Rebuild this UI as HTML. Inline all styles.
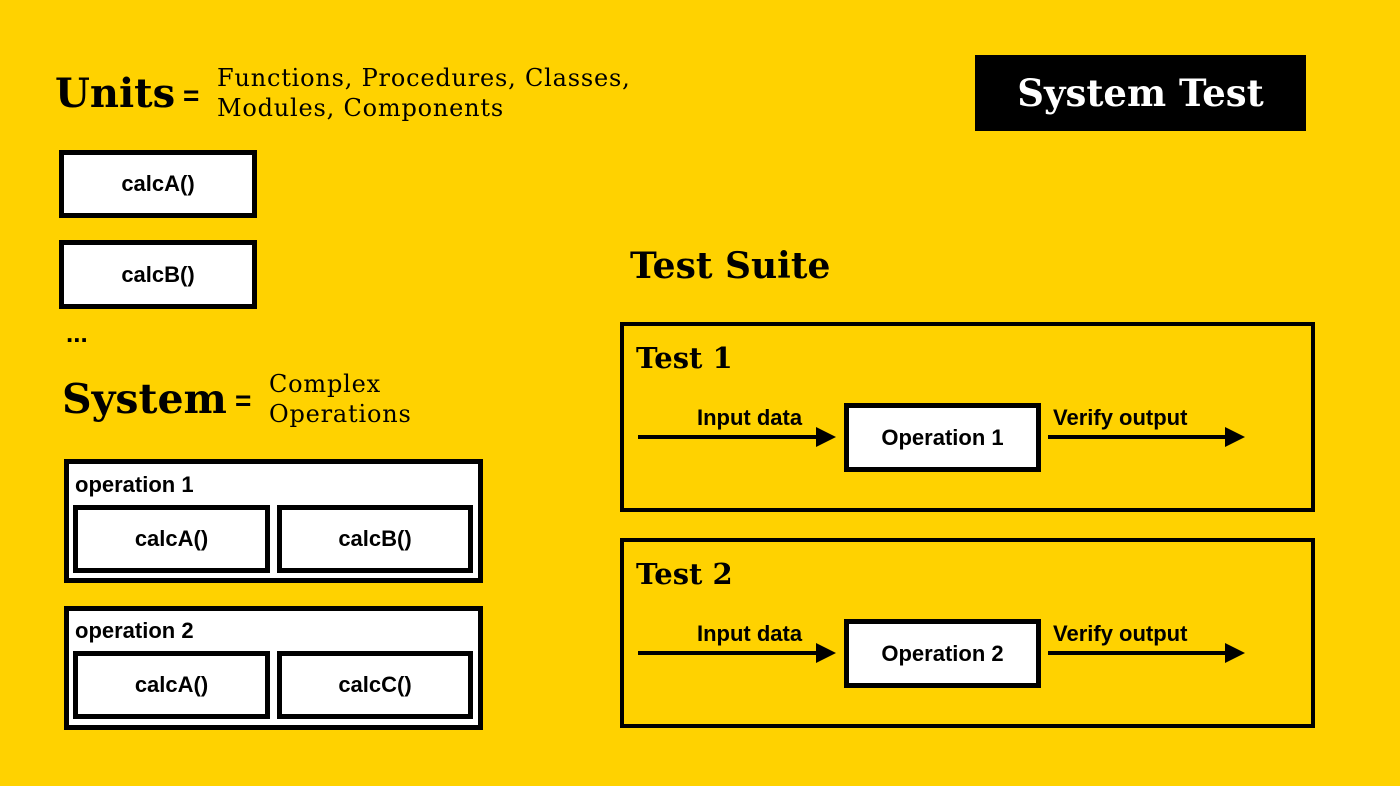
<!DOCTYPE html>
<html><head><meta charset="utf-8"><style>
body{margin:0;width:1400px;height:786px;background:#FFD200;position:relative;overflow:hidden;font-family:"Liberation Sans",sans-serif}
.a{position:absolute;white-space:nowrap}
.s{font-family:"DejaVu Serif",serif;font-weight:bold}
.n{font-family:"DejaVu Serif",serif;font-weight:normal;font-size:24px;letter-spacing:0.8px;line-height:30px}
.b{position:absolute;box-sizing:border-box;border:5px solid #000;background:#fff;display:flex;align-items:center;justify-content:center;font-weight:bold;font-size:22px}
.t{position:absolute;box-sizing:border-box;border:4px solid #000}
.ln{position:absolute;height:4px;background:#000}
.ar{position:absolute;width:0;height:0;border-top:10px solid transparent;border-bottom:10px solid transparent;border-left:20px solid #000}
.lb{position:absolute;font-weight:bold;font-size:22px;white-space:nowrap}
</style></head><body>
<div class="a s" style="left:55px;top:70px;font-size:40px">Units</div>
<div class="a" style="left:183px;top:80px;font-size:28px;font-weight:bold">=</div>
<div class="a n" style="left:217px;top:63px">Functions, Procedures, Classes,<br>Modules, Components</div>
<div class="a s" style="left:975px;top:55px;width:331px;height:76px;background:#000;color:#fff;font-size:37px;display:flex;align-items:center;justify-content:center">System Test</div>
<div class="b" style="left:59px;top:150px;width:198px;height:68px">calcA()</div>
<div class="b" style="left:59px;top:240px;width:198px;height:69px">calcB()</div>
<div class="a" style="left:66px;top:318px;font-size:26px;font-weight:bold">...</div>
<div class="a s" style="left:62px;top:375px;font-size:41px">System</div>
<div class="a" style="left:235px;top:385px;font-size:28px;font-weight:bold">=</div>
<div class="a n" style="left:269px;top:369px">Complex<br>Operations</div>

<div class="t" style="left:64px;top:459px;width:419px;height:124px;background:#fff;border-width:5px"></div>
<div class="lb" style="left:75px;top:472px">operation 1</div>
<div class="b" style="left:73px;top:505px;width:197px;height:68px">calcA()</div>
<div class="b" style="left:277px;top:505px;width:196px;height:68px">calcB()</div>

<div class="t" style="left:64px;top:606px;width:419px;height:124px;background:#fff;border-width:5px"></div>
<div class="lb" style="left:75px;top:618px">operation 2</div>
<div class="b" style="left:73px;top:651px;width:197px;height:68px">calcA()</div>
<div class="b" style="left:277px;top:651px;width:196px;height:68px">calcC()</div>

<div class="a s" style="left:630px;top:245px;font-size:36px">Test Suite</div>

<div class="t" style="left:620px;top:322px;width:695px;height:190px"></div>
<div class="a s" style="left:636px;top:341px;font-size:29px">Test 1</div>
<div class="ln" style="left:638px;top:435px;width:180px"></div><div class="ar" style="left:816px;top:427px"></div>
<div class="lb" style="left:697px;top:405px">Input data</div>
<div class="b" style="left:844px;top:403px;width:197px;height:69px">Operation 1</div>
<div class="ln" style="left:1048px;top:435px;width:180px"></div><div class="ar" style="left:1225px;top:427px"></div>
<div class="lb" style="left:1053px;top:405px">Verify output</div>

<div class="t" style="left:620px;top:538px;width:695px;height:190px"></div>
<div class="a s" style="left:636px;top:557px;font-size:29px">Test 2</div>
<div class="ln" style="left:638px;top:651px;width:180px"></div><div class="ar" style="left:816px;top:643px"></div>
<div class="lb" style="left:697px;top:621px">Input data</div>
<div class="b" style="left:844px;top:619px;width:197px;height:69px">Operation 2</div>
<div class="ln" style="left:1048px;top:651px;width:180px"></div><div class="ar" style="left:1225px;top:643px"></div>
<div class="lb" style="left:1053px;top:621px">Verify output</div>
</body></html>
